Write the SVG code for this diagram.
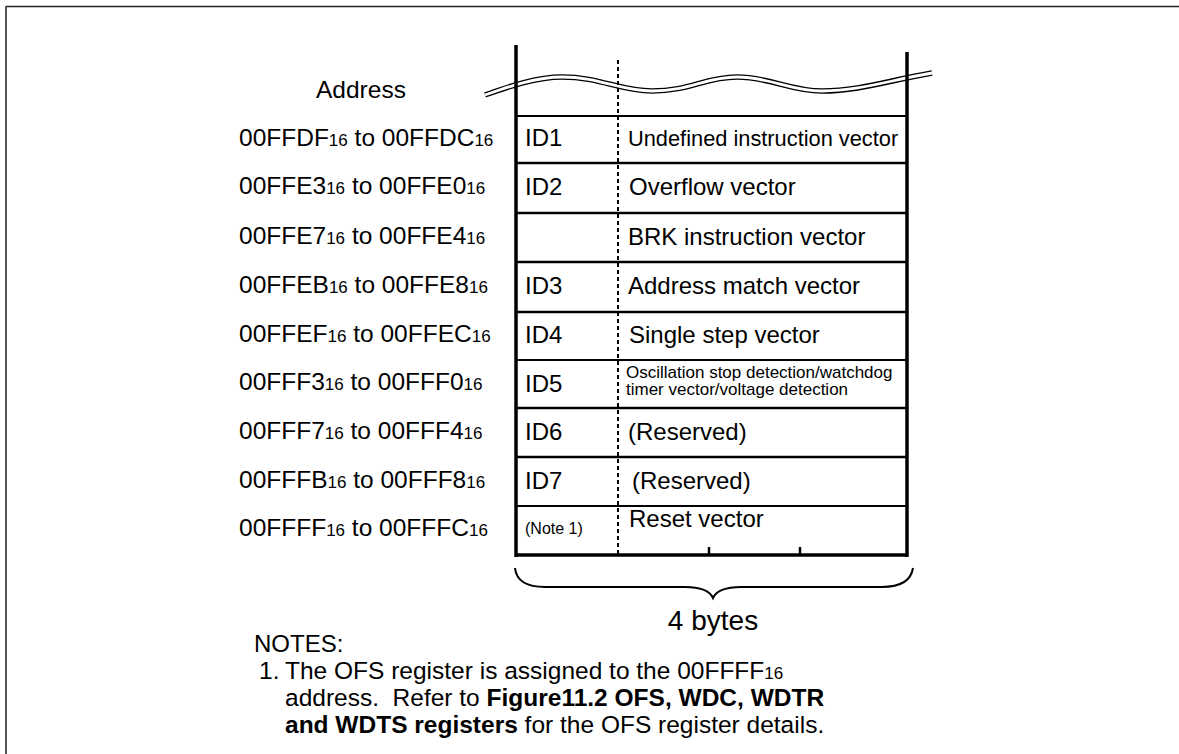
<svg xmlns="http://www.w3.org/2000/svg" width="1179" height="754" viewBox="0 0 1179 754">
<style>
text{font-family:"Liberation Sans",Arial,sans-serif;fill:#000}
.lbl{font-size:24.5px}
.sub{font-size:17px}
.cell{font-size:24px}
.sm{font-size:17px}
.note{font-size:24.5px}
.row{stroke:#000;stroke-width:2;fill:none}
.col{stroke:#000;stroke-width:3.5;fill:none}
.dash{stroke:#000;stroke-width:2;stroke-dasharray:4 3;fill:none}
</style>
<rect width="1179" height="754" fill="#fff"/>
<g id="frame">
<line x1="6" y1="6.5" x2="1179" y2="6.5" stroke="#222" stroke-width="1.5"/>
<line x1="6" y1="6" x2="6" y2="754" stroke="#555" stroke-width="2"/>
</g>
<g id="address-header"><text class="lbl" x="316" y="98">Address</text></g>
<g id="wave">
<path d="M485,95 C505,88 535,77 562,77 C600,77 620,91 652,91 C690,91 705,77 737,77 C770,77 790,91 822,91 C860,91 890,80 932,73" stroke="#000" stroke-width="5.5" fill="none"/>
<path d="M485,95 C505,88 535,77 562,77 C600,77 620,91 652,91 C690,91 705,77 737,77 C770,77 790,91 822,91 C860,91 890,80 932,73" stroke="#fff" stroke-width="2.8" fill="none"/>
</g>
<g id="table">
<line class="dash" x1="618" y1="60" x2="618" y2="555"/>
<line class="row" x1="516" y1="116" x2="907" y2="116" style="stroke-width:1.8"/>
<line class="row" x1="516" y1="163" x2="907" y2="163" style="stroke-width:2.4"/>
<line class="row" x1="516" y1="213" x2="907" y2="213" style="stroke-width:2.6"/>
<line class="row" x1="516" y1="262" x2="907" y2="262" style="stroke-width:2.6"/>
<line class="row" x1="516" y1="312" x2="907" y2="312" style="stroke-width:2.6"/>
<line class="row" x1="516" y1="360" x2="907" y2="360" style="stroke-width:2"/>
<line class="row" x1="516" y1="408" x2="907" y2="408" style="stroke-width:2.6"/>
<line class="row" x1="516" y1="457" x2="907" y2="457" style="stroke-width:2.6"/>
<line class="row" x1="516" y1="506" x2="907" y2="506" style="stroke-width:1.8"/>
<line class="col" x1="516" y1="555" x2="907" y2="555"/>
<line class="col" x1="516" y1="45" x2="516" y2="557"/>
<line class="col" x1="907" y1="52" x2="907" y2="557"/>
<line x1="709" y1="547" x2="709" y2="555" stroke="#000" stroke-width="2.5"/>
<line x1="800" y1="547" x2="800" y2="555" stroke="#000" stroke-width="2.5"/>
</g>
<g id="row1">
<text class="lbl" x="239" y="145.5">00FFDF<tspan class="sub">16</tspan> to 00FFDC<tspan class="sub">16</tspan></text>
<text class="cell" x="525" y="146">ID1</text>
<text x="628" y="146" style="font-size:21.8px">Undefined instruction vector</text>
</g>
<g id="row2">
<text class="lbl" x="239" y="194">00FFE3<tspan class="sub">16</tspan> to 00FFE0<tspan class="sub">16</tspan></text>
<text class="cell" x="525" y="195">ID2</text>
<text class="cell" x="629" y="195">Overflow vector</text>
</g>
<g id="row3">
<text class="lbl" x="239" y="243.5">00FFE7<tspan class="sub">16</tspan> to 00FFE4<tspan class="sub">16</tspan></text>
<text class="cell" x="628" y="245">BRK instruction vector</text>
</g>
<g id="row4">
<text class="lbl" x="239" y="293">00FFEB<tspan class="sub">16</tspan> to 00FFE8<tspan class="sub">16</tspan></text>
<text class="cell" x="525" y="294">ID3</text>
<text class="cell" x="628" y="294">Address match vector</text>
</g>
<g id="row5">
<text class="lbl" x="239" y="342">00FFEF<tspan class="sub">16</tspan> to 00FFEC<tspan class="sub">16</tspan></text>
<text class="cell" x="525" y="343">ID4</text>
<text class="cell" x="629" y="343">Single step vector</text>
</g>
<g id="row6">
<text class="lbl" x="239" y="390">00FFF3<tspan class="sub">16</tspan> to 00FFF0<tspan class="sub">16</tspan></text>
<text class="cell" x="525" y="392">ID5</text>
<text class="sm" x="626" y="378">Oscillation stop detection/watchdog</text>
<text class="sm" x="626" y="395">timer vector/voltage detection</text>
</g>
<g id="row7">
<text class="lbl" x="239" y="438.5">00FFF7<tspan class="sub">16</tspan> to 00FFF4<tspan class="sub">16</tspan></text>
<text class="cell" x="525" y="440">ID6</text>
<text class="cell" x="628" y="440">(Reserved)</text>
</g>
<g id="row8">
<text class="lbl" x="239" y="487.5">00FFFB<tspan class="sub">16</tspan> to 00FFF8<tspan class="sub">16</tspan></text>
<text class="cell" x="525" y="489">ID7</text>
<text class="cell" x="632" y="489">(Reserved)</text>
</g>
<g id="row9">
<text class="lbl" x="239" y="536">00FFFF<tspan class="sub">16</tspan> to 00FFFC<tspan class="sub">16</tspan></text>
<text x="525" y="534" style="font-size:16px">(Note 1)</text>
<text class="cell" x="629" y="527">Reset vector</text>
</g>
<g id="connectors">
<path d="M515,568 Q517,587 545,587 L685,587 Q708,587 713,598 Q718,587 741,587 L882,587 Q910,587 913,568" stroke="#000" stroke-width="2" fill="none"/>
</g>
<g id="size-label"><text x="713" y="630" text-anchor="middle" style="font-size:28px">4 bytes</text></g>
<g id="notes">
<text x="254" y="652" style="font-size:24px">NOTES:</text>
<text class="note" x="259" y="679">1.</text>
<text class="note" x="285" y="679">The OFS register is assigned to the 00FFFF<tspan style="font-size:17px">16</tspan></text>
<text class="note" x="285" y="706">address.&#160; Refer to <tspan font-weight="bold">Figure11.2 OFS, WDC, WDTR</tspan></text>
<text class="note" x="285" y="733"><tspan font-weight="bold">and WDTS registers</tspan> for the OFS register details.</text>
</g>
</svg>
